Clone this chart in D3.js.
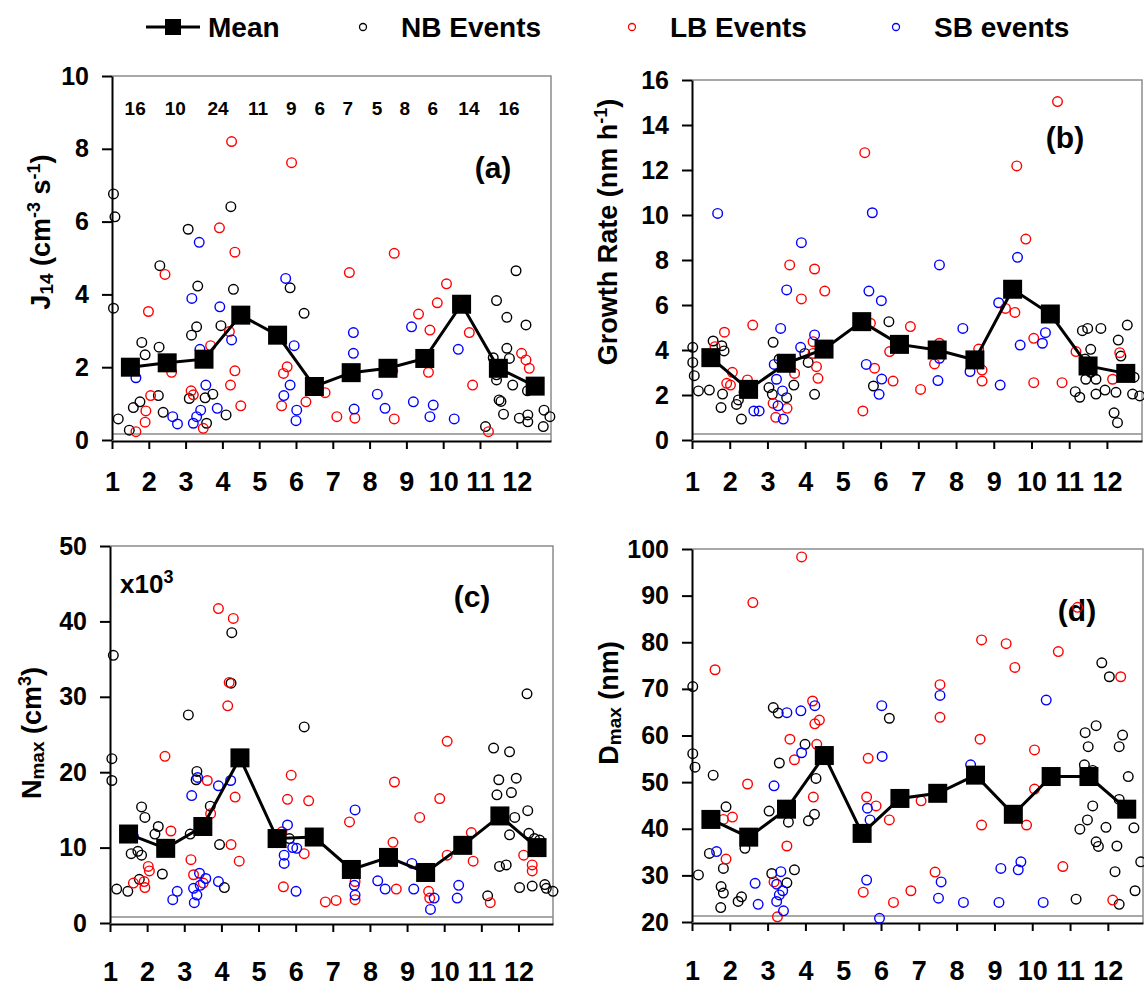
<!DOCTYPE html>
<html lang="en">
<meta charset="utf-8">
<head>
<script src="https://cdn.jsdelivr.net/npm/d3@7"></script>
<style>
  body { margin: 0; background: #fff; }
  text { font-family: Arial, "Liberation Sans", sans-serif; font-weight: bold; }
</style>
</head>
<body>
<svg id="chart" width="1144" height="988"></svg>
<script>
// ---- data (month position, value) ----
var months = d3.range(1, 13);
var meanX = months.map(function(m) { return m + 0.5; });

var counts = [16, 10, 24, 11, 9, 6, 7, 5, 8, 6, 14, 16];
var countX = [1.63, 2.72, 3.88, 4.97, 5.87, 6.65, 7.41, 8.20, 8.96, 9.72, 10.70, 11.79];

// (a) J14
var jNB = [[1.04,6.76],[1.08,6.13],[1.04,3.62],[1.17,0.58],[1.47,0.27],[1.58,0.89],[1.76,1.05],[1.81,2.68],[1.90,2.34],[2.26,1.22],[2.30,4.79],[2.28,2.55],[2.39,0.76],[3.07,5.79],[3.10,1.14],[3.16,2.88],[3.30,3.11],[3.33,4.23],[3.53,1.16],[3.57,0.46],[3.74,1.26],[3.96,3.14],[4.10,0.69],[4.23,6.41],[4.30,4.14],[5.84,4.18],[6.22,3.48],[11.45,3.83],[11.73,3.37],[11.98,4.65],[12.25,3.16],[11.36,2.26],[11.73,2.52],[11.80,2.24],[11.45,1.79],[11.45,1.65],[11.89,1.51],[12.29,1.35],[11.52,1.10],[11.57,1.06],[11.64,0.71],[11.15,0.37],[12.07,0.60],[12.30,0.69],[12.30,0.50],[12.74,0.82],[12.90,0.64],[12.72,0.37],[12.52,1.46]];
var jLB = [[1.65,0.23],[1.90,0.49],[1.92,0.80],[2.05,1.22],[1.99,3.53],[2.44,4.55],[2.62,1.86],[3.15,1.35],[3.21,1.24],[3.48,0.32],[3.55,2.26],[3.68,2.59],[3.92,5.83],[4.19,2.98],[4.22,1.51],[4.34,1.90],[4.34,5.16],[4.25,8.20],[4.50,0.94],[5.61,0.94],[5.66,1.83],[5.76,2.01],[5.88,7.62],[6.41,1.51],[6.27,1.05],[6.79,1.30],[7.11,0.64],[7.60,0.60],[7.45,4.60],[8.63,1.90],[8.67,5.13],[8.67,0.58],[9.33,3.46],[9.60,1.86],[9.64,3.02],[9.84,3.77],[10.09,4.29],[10.71,2.95],[10.80,1.51],[11.23,0.23],[12.13,2.38],[12.25,2.20],[12.34,1.97]];
var jSB = [[1.65,1.71],[2.65,0.64],[2.78,0.44],[3.17,3.89],[3.37,5.43],[3.39,2.49],[3.21,0.46],[3.30,0.64],[3.41,0.82],[3.55,1.51],[3.86,0.87],[3.93,3.66],[4.25,2.75],[5.72,4.44],[5.95,2.59],[5.84,1.51],[5.67,1.22],[6.02,0.82],[6.00,0.53],[7.56,2.95],[7.56,2.38],[7.58,0.85],[8.21,1.26],[8.42,0.87],[9.14,3.11],[9.19,1.05],[9.73,0.96],[9.64,0.64],[10.41,2.49],[10.30,0.58]];
var jMean = [2.0, 2.12, 2.22, 3.43, 2.88, 1.47, 1.85, 1.97, 2.24, 3.73, 1.97, 1.48];

// (b) growth rate
var gNB = [[1.02,4.12],[1.02,3.45],[1.06,2.86],[1.17,2.18],[1.46,2.22],[1.56,4.40],[1.79,4.19],[1.85,3.96],[1.81,2.04],[1.77,1.44],[2.18,1.58],[2.23,1.78],[2.31,0.93],[2.38,2.12],[3.04,2.33],[3.13,2.03],[3.15,4.34],[3.31,3.59],[3.51,1.88],[3.70,2.44],[4.08,3.45],[3.99,3.85],[4.25,2.03],[6.22,5.26],[5.81,2.40],[11.35,4.86],[11.49,4.96],[11.84,4.96],[12.54,5.11],[11.57,4.03],[11.42,3.60],[11.57,3.01],[11.44,2.70],[11.71,2.70],[11.71,2.04],[11.16,2.15],[11.28,1.90],[11.95,2.22],[12.24,2.12],[12.30,4.44],[12.37,3.73],[12.19,1.21],[12.28,0.77],[12.72,2.79],[12.68,2.04],[12.87,1.96]];
var gLB = [[1.61,4.15],[1.86,4.79],[1.92,2.52],[2.02,2.44],[2.07,3.01],[2.47,2.67],[2.61,5.11],[3.15,1.63],[3.22,1.01],[3.52,1.41],[3.59,7.78],[3.72,2.96],[3.90,6.27],[4.21,4.37],[4.21,3.85],[4.25,7.60],[4.30,3.26],[4.34,2.74],[4.52,6.62],[5.53,1.29],[5.58,12.77],[5.73,5.19],[5.84,3.19],[6.24,3.93],[6.33,2.62],[6.79,5.04],[7.06,2.25],[7.43,3.38],[7.56,4.30],[8.60,4.04],[8.69,3.11],[8.69,2.62],[9.31,5.85],[9.56,5.67],[9.61,12.18],[9.85,8.93],[10.06,4.52],[10.06,2.55],[10.81,2.55],[10.69,15.04],[11.18,3.93],[12.15,2.70],[12.34,3.88]];
var gSB = [[1.68,10.07],[2.64,1.29],[2.78,1.29],[3.18,3.36],[3.24,2.70],[3.35,4.96],[3.28,1.52],[3.42,0.93],[3.40,2.18],[3.51,6.67],[3.90,8.77],[3.88,4.12],[4.25,4.67],[5.69,6.62],[5.78,10.10],[6.02,6.19],[5.62,3.36],[6.03,2.71],[5.96,2.03],[7.56,7.78],[7.52,2.64],[7.56,3.63],[8.18,4.96],[8.37,3.04],[9.13,6.10],[9.17,2.44],[9.63,8.12],[9.70,4.22],[10.29,4.30],[10.37,4.77]];
var gMean = [3.66, 2.25, 3.41, 4.04, 5.26, 4.25, 4.0, 3.56, 6.70, 5.6, 3.29, 2.96];

// (c) Nmax (x10^3)
var nNB = [[1.09,35.5],[1.05,21.8],[1.05,18.9],[1.18,4.5],[1.48,4.2],[1.57,9.2],[1.75,9.5],[1.85,9.0],[1.79,5.8],[1.85,15.4],[1.94,14.0],[2.30,12.8],[2.21,11.8],[2.41,6.5],[3.11,27.6],[3.16,11.8],[3.34,20.1],[3.32,19.0],[3.70,15.5],[3.95,10.4],[4.08,4.7],[4.28,38.5],[4.26,31.8],[5.83,11.2],[6.23,26.0],[11.33,23.2],[11.76,22.7],[11.47,19.0],[11.42,17.0],[11.81,17.3],[11.94,19.2],[11.58,14.6],[11.90,14.0],[11.76,11.7],[12.25,14.9],[12.28,11.9],[12.43,11.2],[12.57,11.0],[11.49,7.5],[11.67,7.7],[11.17,3.6],[12.23,30.4],[12.03,4.7],[12.37,4.9],[12.71,5.1],[12.75,4.6],[12.93,4.2]];
var nLB = [[1.63,5.3],[1.92,5.5],[1.94,4.7],[2.03,7.5],[2.06,6.9],[2.48,22.1],[2.64,12.2],[3.18,8.4],[3.25,6.4],[3.51,5.3],[3.62,18.9],[3.71,14.5],[3.92,41.7],[4.17,28.8],[4.21,31.9],[4.32,40.4],[4.37,16.7],[4.26,10.4],[4.48,8.2],[5.67,4.8],[5.63,12.1],[5.78,16.4],[5.88,19.6],[6.23,9.2],[6.35,16.2],[6.80,2.8],[7.09,3.0],[7.45,13.4],[7.60,5.5],[7.60,3.1],[8.62,10.7],[8.66,18.7],[8.71,4.5],[9.34,14.0],[9.58,4.2],[9.61,3.3],[9.88,16.5],[10.08,24.1],[10.08,9.0],[10.73,12.0],[10.78,8.2],[11.24,2.7],[12.14,9.0],[12.37,7.7],[12.37,6.9]];
var nSB = [[1.63,11.5],[2.69,3.1],[2.81,4.2],[3.20,16.9],[3.27,2.7],[3.25,4.6],[3.34,3.7],[3.36,19.3],[3.41,6.6],[3.43,5.0],[3.58,5.9],[3.92,18.2],[3.92,5.5],[4.25,18.9],[5.69,9.0],[5.69,7.9],[5.78,13.0],[5.92,10.0],[6.01,4.2],[6.03,9.9],[7.60,15.0],[7.58,5.0],[7.60,3.7],[8.21,5.6],[8.41,4.5],[9.13,7.9],[9.18,4.5],[9.73,3.3],[9.63,1.8],[10.39,5.0],[10.35,3.3]];
var nMean = [11.8, 9.9, 12.8, 21.9, 11.2, 11.4, 7.1, 8.7, 6.7, 10.3, 14.2, 10.0];

// (d) Dmax
var dNB = [[1.02,70.5],[1.02,56.1],[1.08,53.2],[1.17,30.1],[1.46,34.7],[1.56,51.5],[1.77,27.6],[1.83,26.2],[1.76,23.1],[1.83,31.5],[1.90,44.7],[2.22,24.4],[2.31,25.4],[2.40,35.8],[3.04,43.8],[3.15,66.0],[3.28,64.8],[3.31,54.1],[3.11,30.4],[3.51,28.4],[3.55,41.4],[3.71,31.2],[3.99,58.1],[4.08,41.7],[4.24,43.1],[4.28,50.8],[6.22,63.7],[11.84,75.6],[12.04,72.6],[11.40,60.6],[11.69,62.1],[11.48,57.6],[12.39,60.1],[12.30,57.6],[11.38,53.7],[11.60,52.5],[12.54,51.2],[12.30,46.3],[11.60,44.9],[11.46,41.9],[11.26,39.9],[11.95,40.3],[11.69,37.2],[11.75,36.2],[12.24,36.3],[12.69,40.2],[12.87,32.9],[12.19,30.8],[12.72,26.7],[12.30,23.8],[11.16,24.9]];
var dLB = [[1.61,74.1],[1.83,42.0],[2.07,42.5],[1.90,33.5],[2.47,49.6],[2.61,88.5],[3.17,28.6],[3.26,21.1],[3.51,36.3],[3.59,59.2],[3.71,54.8],[3.90,98.3],[4.19,67.4],[4.25,62.5],[4.37,63.3],[4.30,58.1],[4.21,46.8],[4.49,55.7],[5.53,26.4],[5.66,55.1],[5.62,46.8],[5.87,44.9],[6.22,41.9],[6.33,24.2],[6.79,26.7],[7.06,46.0],[7.43,30.7],[7.56,70.9],[7.56,63.9],[8.62,59.2],[8.66,80.5],[8.66,40.8],[9.31,79.7],[9.54,74.6],[9.85,40.8],[10.06,56.9],[10.06,48.5],[10.69,78.0],[10.81,31.9],[11.20,87.5],[12.34,72.6],[12.13,24.7]];
var dSB = [[1.65,35.1],[2.67,28.3],[2.75,23.8],[3.17,49.2],[3.24,28.1],[3.24,24.4],[3.35,30.8],[3.31,25.8],[3.40,26.7],[3.42,22.4],[3.51,64.9],[3.88,65.3],[3.90,56.3],[4.25,66.4],[5.64,44.4],[5.71,41.9],[6.02,66.4],[6.03,55.5],[5.62,29.0],[5.96,20.8],[7.56,68.6],[7.59,28.6],[7.52,25.1],[8.18,24.2],[8.37,53.7],[9.12,24.2],[9.17,31.5],[9.63,31.2],[9.70,32.9],[10.37,67.6],[10.29,24.2]];
var dMean = [42.0, 38.2, 44.2, 55.7, 39.0, 46.5, 47.6, 51.5, 43.1, 51.2, 51.2, 44.2];

var svg = d3.select("#chart");
var colNB = "#000000", colLB = "#ff0000", colSB = "#0000ff";

// panel layout
var panels = [
  { x0: 112, x1: 551, yTop: 76, yBot: 440, dom: [0, 10], ticks: d3.range(0, 11, 2), pad: 23,
    nb: jNB, lb: jLB, sb: jSB, mean: jMean, tag: "(a)", tagX: 493, tagY: 178,
    title: [["J",""],["14","sub"],[" (cm",""],["-3","sup"],[" s",""],["-1","sup"],[")",""]], tx: 50, ty: 232 },
  { x0: 692, x1: 1142, yTop: 80, yBot: 440, dom: [0, 16], ticks: d3.range(0, 17, 2), pad: 23,
    nb: gNB, lb: gLB, sb: gSB, mean: gMean, tag: "(b)", tagX: 1065, tagY: 148,
    title: [["Growth Rate (nm h",""],["-1","sup"],[")",""]], tx: 617, ty: 232 },
  { x0: 110, x1: 553, yTop: 546, yBot: 923, dom: [0, 50], ticks: d3.range(0, 51, 10), pad: 30,
    nb: nNB, lb: nLB, sb: nSB, mean: nMean, tag: "(c)", tagX: 472, tagY: 607,
    title: [["N",""],["max","sub"],[" (cm",""],["3","sup"],[")",""]], tx: 41, ty: 733 },
  { x0: 692, x1: 1143, yTop: 549, yBot: 922, dom: [20, 100], ticks: d3.range(20, 101, 10), pad: 30,
    nb: dNB, lb: dLB, sb: dSB, mean: dMean, tag: "(d)", tagX: 1077, tagY: 621,
    title: [["D",""],["max","sub"],[" (nm)",""]], tx: 618, ty: 703 }
];

panels.forEach(function(p, i) {
  var x = d3.scaleLinear().domain([1, 12.93]).range([p.x0, p.x1]);
  var y = d3.scaleLinear().domain(p.dom).range([p.yBot, p.yTop]);
  var g = svg.append("g");

  // grey frame (top, right, inner bottom)
  g.append("path")
    .attr("d", "M" + p.x0 + "," + p.yTop + "H" + p.x1 + "V" + (p.yBot + 1) + "M" + p.x0 + "," + (p.yBot - 6) + "H" + p.x1)
    .attr("fill", "none").attr("stroke", "#8c8c8c").attr("stroke-width", 1.5);

  // y axis
  var ya = g.append("g").attr("transform", "translate(" + p.x0 + ",0)")
    .call(d3.axisLeft(y).tickValues(p.ticks).tickSize(10).tickSizeOuter(0).tickPadding(13));
  ya.selectAll("text").style("font-size", "25px").attr("fill", "#000");
  ya.selectAll("line, path").attr("stroke", "#000").attr("stroke-width", 2);

  // x axis
  var xa = g.append("g").attr("transform", "translate(0," + (p.yBot + 1) + ")")
    .call(d3.axisBottom(x).tickValues(months).tickSize(8).tickSizeOuter(0).tickPadding(p.pad));
  xa.selectAll("text").style("font-size", "27px").attr("fill", "#000");
  xa.selectAll("line, path").attr("stroke", "#000").attr("stroke-width", 2);

  // y title
  var t = g.append("text")
    .attr("transform", "translate(" + p.tx + "," + p.ty + ") rotate(-90)")
    .attr("text-anchor", "middle").style("font-size", "27px");
  p.title.forEach(function(s) {
    var ts = t.append("tspan").text(s[0]);
    if (s[1] === "sub") ts.style("font-size", "19px").attr("baseline-shift", "-3");
    if (s[1] === "sup") ts.style("font-size", "18px").attr("baseline-shift", "super");
  });

  // panel tag
  g.append("text").attr("x", p.tagX).attr("y", p.tagY).attr("text-anchor", "middle")
    .style("font-size", "30px").text(p.tag);

  // scatter points
  [[p.nb, colNB], [p.lb, colLB], [p.sb, colSB]].forEach(function(s) {
    g.append("g").selectAll("circle").data(s[0]).enter().append("circle")
      .attr("cx", function(d) { return x(d[0]); })
      .attr("cy", function(d) { return y(d[1]); })
      .attr("r", 4.8)
      .attr("fill", "none").attr("stroke", s[1]).attr("stroke-width", 1.4);
  });

  // monthly mean
  var line = d3.line().x(function(d, k) { return x(meanX[k]); }).y(function(d) { return y(d); });
  g.append("path").datum(p.mean).attr("d", line)
    .attr("fill", "none").attr("stroke", "#000").attr("stroke-width", 3);
  g.append("g").selectAll("rect").data(p.mean).enter().append("rect")
    .attr("x", function(d, k) { return x(meanX[k]) - 9.5; })
    .attr("y", function(d) { return y(d) - 9.5; })
    .attr("width", 19).attr("height", 19).attr("fill", "#000");

  if (i === 0) {
    g.append("g").selectAll("text").data(counts).enter().append("text")
      .attr("x", function(d, k) { return x(countX[k]); })
      .attr("y", 115).attr("text-anchor", "middle")
      .style("font-size", "19px").text(function(d) { return d; });
  }
  if (i === 2) {
    var e = g.append("text").attr("x", 120).attr("y", 593).style("font-size", "26px");
    e.append("tspan").text("x10");
    e.append("tspan").attr("baseline-shift", "super").style("font-size", "18px").text("3");
  }
});

// legend
var leg = svg.append("g");
leg.append("line").attr("x1", 146).attr("x2", 200).attr("y1", 27).attr("y2", 27)
  .attr("stroke", "#000").attr("stroke-width", 3);
leg.append("rect").attr("x", 165).attr("y", 19).attr("width", 16).attr("height", 16).attr("fill", "#000");
var items = [["Mean", null, 208], ["NB Events", colNB, 401], ["LB Events", colLB, 670], ["SB events", colSB, 934]];
items.forEach(function(it) {
  if (it[1]) {
    leg.append("circle").attr("cx", it[2] - 38).attr("cy", 27).attr("r", 3.5)
      .attr("fill", "none").attr("stroke", it[1]).attr("stroke-width", 1.3);
  }
  leg.append("text").attr("x", it[2]).attr("y", 37).style("font-size", "28px").text(it[0]);
});
</script>
</body>
</html>
